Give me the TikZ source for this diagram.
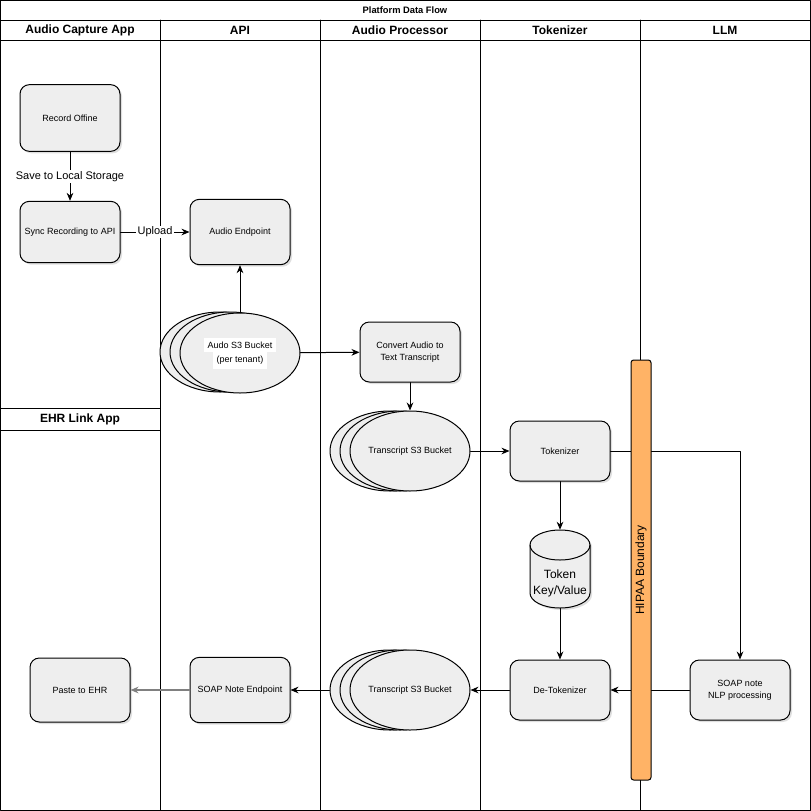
\documentclass[tikz,border=0pt]{standalone}
\usepackage{fontspec}
\setmainfont{Liberation Sans}
\usetikzlibrary{shapes.geometric,shadows,arrows.meta}

\definecolor{boxgray}{RGB}{238,238,238}
\definecolor{hipaaorange}{RGB}{255,179,102}
\definecolor{linkgray}{RGB}{128,128,128}

\begin{document}
\begin{tikzpicture}[x=0.75pt,y=-0.75pt,line cap=round,line join=round,
    lane/.style={line width=0.75pt},
    lanehead/.style={font=\bfseries\fontsize{9}{11}\selectfont},
    procbox/.style={draw,line width=0.75pt,fill=boxgray,rounded corners=7pt,
        minimum width=75pt,minimum height=45pt,align=center,
        font=\fontsize{6.75}{9}\selectfont,
        drop shadow={shadow xshift=1.5pt,shadow yshift=-1.5pt,opacity=0.25}},
    bucket/.style={draw,ellipse,line width=0.75pt,fill=boxgray,
        minimum width=90pt,minimum height=60pt,inner sep=0pt,align=center,
        font=\fontsize{6.75}{9}\selectfont},
    kvstore/.style={minimum width=45pt,minimum height=58.5pt,
        inner sep=0pt,font=\fontsize{9}{12}\selectfont},
    kvshell/.style={draw,line width=0.75pt,fill=boxgray},
    flow/.style={-{Stealth[length=6pt,width=5pt]},line width=0.75pt},
    flowlabel/.style={fill=white,inner sep=1pt,font=\fontsize{8.25}{10}\selectfont}]

    \useasboundingbox (0,0) rectangle (811,811);

    % Swimlanes
    \draw[lane] (0.5,0.5) rectangle (810.5,810.5);
    \draw[lane] (0.5,20) -- (810.5,20);
    \draw[lane] (0.5,40) -- (810.5,40);
    \foreach \lx in {160,320,480,640}
        \draw[lane] (\lx,20) -- (\lx,810.5);
    \draw[lane] (0.5,408) -- (160,408);
    \draw[lane] (0.5,430) -- (160,430);

    \node[font=\bfseries\fontsize{7}{8}\selectfont] (title) at (405,10) {Platform Data Flow};
    \node[lanehead] (hcapture) at (80,30) {Audio Capture App};
    \node[lanehead] (hapi) at (240,30) {API};
    \node[lanehead] (hproc) at (400,30) {Audio Processor};
    \node[lanehead] (htok) at (560,30) {Tokenizer};
    \node[lanehead] (hllm) at (725,30) {LLM};
    \node[lanehead] (hehr) at (80,419) {EHR Link App};

    % Capture and upload
    \node[procbox,minimum height=50pt] (rec) at (70,118) {Record Offine};
    \node[procbox,minimum height=46pt] (sync) at (70,232) {Sync Recording to API};
    \node[procbox,minimum height=49pt] (audep) at (240,232) {Audio Endpoint};

    % Audio bucket (stacked)
    \node[bucket] (audbktb) at (220,352) {};
    \node[bucket] (audbktm) at (230,352) {};
    \node[bucket] (audbkt) at (240,353)
        {\colorbox{white}{Audo S3 Bucket}\\[-1pt]\colorbox{white}{(per tenant)}};

    \node[procbox] (convert) at (410,352) {Convert Audio to\\Text Transcript};

    % Transcript bucket in (stacked)
    \node[bucket] (trbktb) at (390,451) {};
    \node[bucket] (trbktm) at (400,451) {};
    \node[bucket] (trbkt) at (410,451) {Transcript S3 Bucket};

    \node[procbox] (tokzr) at (560,451) {Tokenizer};

    % Token store cylinder
    \draw[kvshell,drop shadow={shadow xshift=1.5pt,shadow yshift=-1.5pt,opacity=0.25}]
        (530,545) -- (530,593)
        .. controls (530,601.3) and (543.4,608) .. (560,608)
        .. controls (576.6,608) and (590,601.3) .. (590,593)
        -- (590,545)
        .. controls (590,536.7) and (576.6,530) .. (560,530)
        .. controls (543.4,530) and (530,536.7) .. (530,545) -- cycle;
    \draw[kvshell,fill=none] (530,545)
        .. controls (530,553.3) and (543.4,560) .. (560,560)
        .. controls (576.6,560) and (590,553.3) .. (590,545);
    \node[kvstore] (tokkv) at (560,569)
        {\raisebox{-13pt}[0pt][0pt]{\begin{tabular}{@{}c@{}}Token\\Key/Value\end{tabular}}};

    \node[procbox] (detok) at (560,690) {De-Tokenizer};
    \node[procbox] (soapnlp) at (740,690) {SOAP note\\NLP processing};

    % Transcript bucket out (stacked)
    \node[bucket] (trbktoutb) at (390,690) {};
    \node[bucket] (trbktoutm) at (400,690) {};
    \node[bucket] (trbktout) at (410,690) {Transcript S3 Bucket};

    \node[procbox,minimum height=49pt] (soapep) at (240,690) {SOAP Note Endpoint};
    \node[procbox,minimum height=48pt] (paste) at (80,690) {Paste to EHR};

    % Connectors
    \draw[flow] (rec) -- node[flowlabel] {Save to Local Storage} (sync);
    \draw[flow] (sync) -- node[flowlabel] {Upload} (audep);
    \draw[flow] (audbkt) -- (audep);
    \draw[flow] (audbkt) -- (convert);
    \draw[flow] (convert) -- (trbkt);
    \draw[flow] (trbkt) -- (tokzr);
    \draw[flow] (tokzr) -- (tokkv.north);
    \draw[flow] (tokkv.south) -- (detok);
    \draw[flow] (tokzr.east) -| (soapnlp.north);
    \draw[flow] (soapnlp) -- (detok);
    \draw[flow] (detok) -- (trbktout);
    \draw[flow] (trbktoutb.west) -- (soapep.east);
    \draw[flow,linkgray,line width=1.5pt] (soapep) -- (paste);

    % HIPAA boundary over the lines
    \node[draw,line width=0.75pt,fill=hipaaorange,rounded corners=2pt,rotate=90,
        minimum width=315pt,minimum height=15pt,inner sep=0pt,
        font=\fontsize{9}{11}\selectfont] (hipaa) at (641,570) {HIPAA Boundary};
\end{tikzpicture}
\end{document}
